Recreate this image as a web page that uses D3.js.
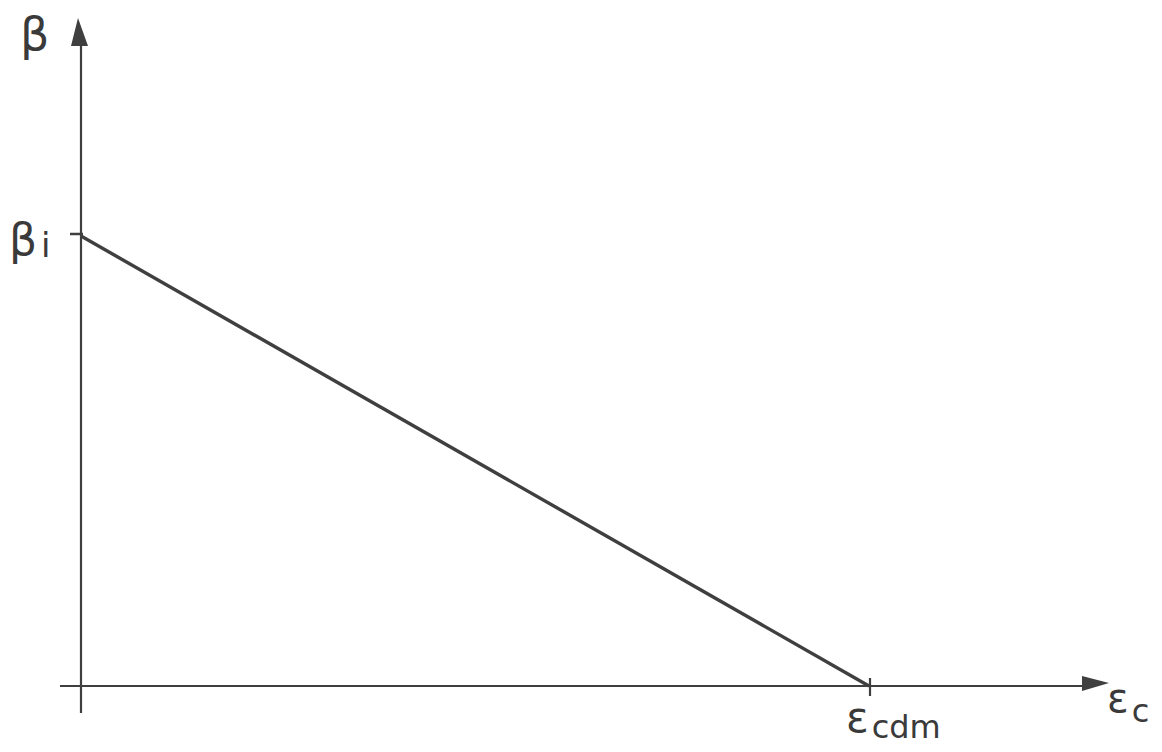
<!DOCTYPE html>
<html>
<head>
<meta charset="utf-8">
<script src="https://cdn.jsdelivr.net/npm/d3@7"></script>
<style>
  body { margin: 0; background: #fff; }
  svg text { font-family: "DejaVu Sans", sans-serif; fill: #3a3a3a; }
</style>
</head>
<body>
<div id="vis"></div>
<script>
// data: damage factor beta falls linearly from beta_i to zero at eps_cdm
var strain = [0, 1];
var beta = [1, 0];
var tickLabels = ["βi", "εcdm"];

var width = 1162;
var height = 752;
var ink = "#3f3f3f";

var x = d3.scaleLinear().domain([0, 1]).range([81, 869]);
var y = d3.scaleLinear().domain([0, 1]).range([686, 236]);

var svg = d3.select("#vis").append("svg")
  .attr("width", width)
  .attr("height", height);

// axes
svg.append("line")
  .attr("x1", x(0)).attr("x2", x(0))
  .attr("y1", 713).attr("y2", 40)
  .attr("stroke", ink).attr("stroke-width", 2.2);

svg.append("line")
  .attr("x1", 60).attr("x2", 1090)
  .attr("y1", y(0)).attr("y2", y(0))
  .attr("stroke", ink).attr("stroke-width", 2.2);

// arrow heads
svg.append("path")
  .attr("d", "M" + (x(0) - 3) + ",18 L" + (x(0) + 7) + ",46 L" + (x(0) - 10) + ",46 Z")
  .attr("fill", ink);
svg.append("path")
  .attr("d", "M1109," + (y(0) - 3) + " L1082," + (y(0) - 10) + " L1082," + (y(0) + 5) + " Z")
  .attr("fill", ink);

// ticks
svg.append("line")
  .attr("x1", x(0) - 11).attr("x2", x(0) + 2)
  .attr("y1", y(1) - 2).attr("y2", y(1) - 2)
  .attr("stroke", ink).attr("stroke-width", 2.5);
svg.append("line")
  .attr("x1", x(1) + 1).attr("x2", x(1) + 1)
  .attr("y1", y(0) - 8).attr("y2", y(0) + 10)
  .attr("stroke", ink).attr("stroke-width", 2.2);

// the line
var line = d3.line()
  .x(function (d, i) { return x(strain[i]); })
  .y(function (d) { return y(d); });

svg.append("path")
  .datum(beta)
  .attr("d", line)
  .attr("fill", "none")
  .attr("stroke", ink)
  .attr("stroke-width", 3.4);

// labels
function label(px, py, main, sub, size, subSize, dx, dy) {
  var t = svg.append("text")
    .attr("x", px).attr("y", py)
    .style("font-size", size + "px");
  t.append("tspan").text(main);
  if (sub) {
    t.append("tspan")
      .attr("dx", dx)
      .attr("dy", dy)
      .style("font-size", subSize + "px")
      .text(sub);
  }
}

label(20, 50, "β", null, 46);
label(9, 255, tickLabels[0][0], tickLabels[0].slice(1), 44, 34, 4, 2);
label(846, 732, tickLabels[1][0], tickLabels[1].slice(1), 42, 32, 3, 6);
label(1107, 712, "ε", "c", 40, 32, 3, 10);
</script>
</body>
</html>
